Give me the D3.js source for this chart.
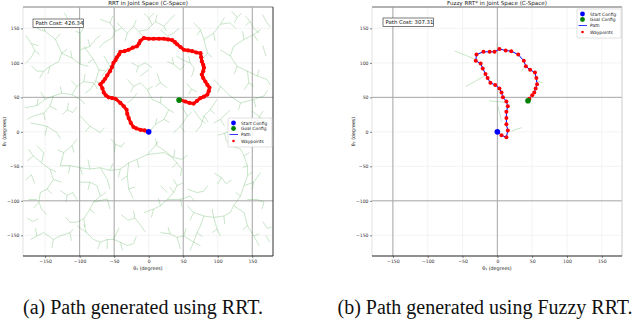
<!DOCTYPE html>
<html>
<head>
<meta charset="utf-8">
<script src="https://cdn.jsdelivr.net/npm/d3@7"></script>
<style>
  body { margin: 0; background: #fff; }
  svg { display: block; }
</style>
</head>
<body>
<svg id="chart"></svg>
<script>
/* global d3 */
const WIDTH = 640, HEIGHT = 322;

// axis ticks (degrees)
const xTicks = [-150, -100, -50, 0, 50, 100, 150];
const yTicks = [-150, -100, -50, 0, 50, 100, 150];

const titles = ["RRT in Joint Space (C-Space)", "Fuzzy RRT* in Joint Space (C-Space)"];
const pathCosts = [426.34, 307.31];
const captions = ["(a) Path generated using RRT.", "(b) Path generated using Fuzzy RRT."];
const legendLabels = ["Start Config", "Goal Config", "Path", "Waypoints"];

// darker reference lines seen in each panel
const rrtLinesX = [-100, -50, 50, 150];
const rrtLinesY = [50, -100];
const fuzzyLinesX = [-150, 0];
const fuzzyLinesY = [50, -100];

// start / goal configurations [theta1, theta2]
const rrtStart = [0, 0], rrtGoal = [44, 46];
const fuzzyStart = [0, 0], fuzzyGoal = [44, 45];

// RRT path waypoints (dense)
const rrtPath = [[0,0],[-6,2],[-12,3],[-18,5],[-22,7],[-26,13],[-29,20],[-31,26],[-32,32],[-36,37],
  [-41,42],[-48,48],[-53,49],[-58,50],[-62,53],[-65,57],[-67,63],[-70,69],[-66,73],[-63,77],
  [-60,82],[-56,88],[-53,94],[-51,100],[-48,104],[-46,108],[-43,112],[-41,116],[-35,117],[-29,119],
  [-23,122],[-17,124],[-14,128],[-12,132],[-7,136],[0,135],[7,135],[15,135],[22,135],[28,134],
  [34,133],[38,130],[41,127],[46,123],[51,119],[57,118],[63,117],[69,115],[75,114],[76,108],
  [77,102],[79,97],[80,93],[79,88],[77,83],[79,78],[82,73],[85,68],[88,64],[87,59],
  [85,54],[80,51],[75,49],[70,45],[65,41],[59,42],[53,44],[46,46]];

// Fuzzy RRT* path waypoints
const fuzzyPath = [[0,0],[6,-5],[13,-8],[15,2],[13,11],[13,20],[13,29],[15,37],[13,44],[8,50],
  [6,57],[3,63],[-3,68],[-10,71],[-14,78],[-17,84],[-21,92],[-24,99],[-31,103],[-30,112],
  [-20,116],[-11,116],[-4,116],[3,120],[12,118],[20,117],[30,112],[38,103],[41,95],[47,90],
  [54,86],[56,78],[57,69],[55,63],[53,57],[50,53],[46,48],[44,45]];

// RRT tree branches, flat [t1,t2, t1,t2, ...]
const rrtBranches = [
  [-167,153,-157,148,-150,146,-135,134,-126,114,-130,102,-143,95,-152,88,-162,88],
  [-126,114,-111,107,-99,98,-87,95],
  [-99,98,-99,119,-99,143,-106,146],
  [-99,119,-85,124,-77,134],
  [-179,35,-162,38,-150,47,-138,52,-126,56,-111,54,-99,47],
  [-138,52,-143,37,-152,27,-167,23],
  [-111,54,-104,66,-94,73,-80,71],
  [-171,13,-147,8,-133,-1],
  [-99,23,-85,8,-70,-1],
  [-70,163,-56,158,-48,146,-53,136,-65,129],
  [-46,158,-31,143,-22,153,-12,143],
  [-14,146,-2,148,10,160,22,153,31,163],
  [17,148,27,139,36,143],
  [-94,124,-80,105,-72,90,-77,73,-85,61],
  [-65,110,-56,95,-68,81],
  [-31,76,-22,66,-12,71,-2,61,5,47,17,42,29,32,22,18,10,11,2,1],
  [-17,56,-24,47,-31,42],
  [12,85,17,71,27,64],
  [27,102,36,98,46,90],
  [-12,81,0,90],
  [65,158,75,148,80,134,94,143,104,156,118,158],
  [80,134,85,114],
  [104,119,118,110,128,95,143,88,157,81,171,76],
  [118,110,123,124,138,134,152,141,162,148],
  [143,88,145,71,138,61],
  [94,76,104,66,118,52,133,42,152,47,167,52],
  [99,47,89,32,80,23,75,8],
  [118,32,104,18,94,13],
  [48,37,56,23,46,8,36,-1],
  [65,32,75,18],
  [-174,-25,-167,-35,-155,-45,-143,-54,-138,-69,-147,-83,-157,-88,-159,-102,-155,-112],
  [-138,-69,-126,-73],
  [-155,-45,-152,-30,-162,-20],
  [-162,-98,-174,-98],
  [-128,-49,-114,-49,-99,-52,-85,-54,-70,-52,-56,-56,-41,-54,-29,-45,-17,-40,-2,-33,7,-23],
  [-70,-52,-60,-69,-56,-83],
  [-29,-45,-31,-64,-29,-83,-22,-97],
  [-2,-33,22,-30,36,-37,48,-40],
  [-128,-49,-123,-30,-111,-20,-104,-11],
  [-99,-73,-85,-73,-75,-78,-70,-93,-80,-102,-85,-112,-94,-126,-104,-131,-114,-131],
  [-80,-102,-60,-97,-56,-112],
  [-7,-117,7,-112,17,-107,27,-98,36,-88,41,-78,36,-69],
  [27,-98,46,-98,60,-93],
  [17,-78,27,-88],
  [56,-107,65,-117,80,-122,94,-124,109,-122,118,-117,123,-107,133,-93,138,-78,143,-64,143,-49,138,-35,133,-25,118,-20],
  [138,-78,152,-73,162,-59],
  [123,-107,138,-117,143,-136,152,-151,160,-165],
  [80,-122,75,-136,70,-146,65,-160],
  [94,-124,99,-141,104,-151],
  [56,-83,70,-88,80,-86,85,-78],
  [143,-98,157,-98,167,-102,164,-112],
  [-171,-156,-162,-151,-152,-146,-138,-156,-128,-151,-114,-146,-109,-141],
  [-104,-136,-90,-146,-80,-156,-70,-160,-60,-156,-51,-156,-41,-160,-31,-165,-22,-162],
  [-51,-156,-46,-146,-43,-139],
  [-60,-156,-60,-170],
  [17,-146,31,-148,41,-153,51,-151,65,-160,75,-165],
  [41,-153,46,-170],
  [-7,172,0,165,5,155],
  [140,168,147,160,152,150,160,143],
  [165,125,170,110],
  [12,-20,27,-30,41,-45,48,-54,46,-64],
  [-178,140,-170,128,-165,118,-170,108,-178,100],
  [-170,128,-160,125],
  [-122,172,-115,160,-108,155,-100,160],
  [-25,100,-15,95,-5,100,5,93],
  [40,110,50,104,60,100,66,92,62,80],
  [55,70,62,62,70,58],
  [120,175,128,166,135,172],
  [165,170,170,160,176,152],
  [150,30,160,22,170,15,178,20],
  [160,22,158,10,165,2],
  [100,-5,110,-2,122,3,130,-5],
  [-178,-70,-170,-62,-165,-75],
  [-128,-85,-118,-92,-110,-88,-104,-98],
  [-40,-120,-30,-128,-20,-125,-12,-135,-5,-145],
  [95,-60,105,-66,112,-75,120,-70],
  [165,-130,172,-140,178,-138],
  [170,-150,175,-160],
  [-176,-125,-168,-130,-160,-126],
  [-55,-10,-48,-18,-40,-22,-35,-15],
  [-125,25,-118,32,-110,28,-104,36]
];

// short twigs of the RRT tree
const rrtTwigs = [
  [-150,146,-155,158],[-135,134,-128,142],[-126,114,-118,120],[-143,95,-146,84],[-152,88,-158,78],[-162,88,-170,96],
  [-111,107,-113,118],[-99,143,-94,152],[-85,124,-88,134],[-77,134,-70,140],
  [-162,38,-160,48],[-150,47,-156,58],[-126,56,-128,66],[-99,47,-92,40],[-143,37,-133,32],[-152,27,-150,17],[-167,23,-176,18],
  [-104,66,-112,74],[-94,73,-92,84],[-80,71,-74,62],
  [-147,8,-150,-5],[-133,-1,-128,-10],[-85,8,-92,0],[-70,-1,-64,6],
  [-56,158,-52,168],[-48,146,-40,150],[-65,129,-72,122],[-31,143,-34,132],[-22,153,-18,162],[-12,143,-6,136],
  [10,160,12,170],[22,153,26,146],[31,163,38,170],[36,143,44,150],
  [-80,105,-88,100],[-72,90,-62,88],[-77,73,-70,70],[-85,61,-92,56],[-56,95,-48,100],
  [-22,66,-26,58],[-2,61,6,66],[17,42,18,52],[29,32,36,28],[22,18,30,14],[10,11,12,20],
  [17,71,10,66],[36,98,34,108],[46,90,52,98],
  [75,148,70,140],[94,143,96,132],[104,156,110,166],[118,158,126,150],[85,114,92,108],[85,114,78,106],
  [128,95,124,84],[157,81,160,90],[171,76,176,68],[138,134,136,146],[152,141,158,132],[145,71,152,66],
  [104,66,100,58],[133,42,130,32],[152,47,155,36],[167,52,172,60],[89,32,96,26],[80,23,86,14],[75,8,68,0],[104,18,110,8],
  [56,23,62,28],[46,8,52,0],[75,18,82,12],
  [-167,-35,-176,-42],[-143,-54,-134,-58],[-147,-83,-140,-90],[-159,-102,-166,-110],[-155,-112,-148,-120],
  [-114,-49,-116,-60],[-99,-52,-96,-62],[-85,-54,-88,-40],[-56,-56,-52,-46],[-41,-54,-44,-66],[-17,-40,-14,-52],[7,-23,14,-14],
  [-31,-64,-40,-70],[-29,-83,-20,-80],[36,-37,38,-26],[48,-40,56,-34],[-123,-30,-132,-26],[-111,-20,-108,-30],
  [-85,-73,-88,-84],[-70,-93,-62,-88],[-85,-112,-78,-118],[-94,-126,-92,-138],[-114,-131,-120,-124],
  [7,-112,4,-124],[17,-107,14,-96],[36,-88,30,-80],[41,-78,50,-74],[46,-98,48,-108],[60,-93,66,-100],
  [65,-117,60,-128],[94,-124,92,-112],[109,-122,110,-134],[133,-93,126,-88],[143,-64,150,-58],[143,-49,136,-52],[138,-35,146,-30],[118,-20,112,-12],
  [152,-73,150,-84],[143,-136,136,-142],[152,-151,160,-148],[70,-146,78,-152],[99,-141,92,-146],
  [-162,-151,-164,-140],[-138,-156,-140,-168],[-114,-146,-112,-158],[-90,-146,-94,-134],[-70,-160,-74,-170],[-41,-160,-38,-172],[-22,-162,-18,-152],
  [31,-148,28,-138],[51,-151,54,-140],[65,-160,60,-172],
  [0,165,8,172],[147,160,140,154],[12,-20,10,-10],[41,-45,34,-52],
  [-165,118,-158,112],[-115,160,-118,150],[-15,95,-18,86],[60,100,58,110],[160,22,166,30],
  [110,-2,112,-12],[-118,-92,-120,-102],[-20,-125,-22,-114],[105,-66,100,-76],[-48,-18,-50,-30],
  [-118,32,-116,42],[128,166,124,158],[62,62,58,54]
];

// Fuzzy RRT* tree (sparse)
const fuzzyBranches = [
  [-61,117,-48,112,-32,105],
  [-45,66,-34,72,-24,78,-16,82],
  [-12,45,-2,44,11,43],
  [1,37,3,28,5,20,6,14],
  [20,1,28,4,35,6],
  [-1,127,3,120],
  [42,93,38,97],
  [56,74,65,71],
  [35,88,39,94]
];

const svg = d3.select("#chart")
  .attr("width", WIDTH)
  .attr("height", HEIGHT);

const yDomain = [-180, 181];
const TOP = 7, BOTTOM = 256;
const FONT = "DejaVu Sans, sans-serif";

let panels = [
  {
    title: titles[0], cost: pathCosts[0], xDomain: [-182, 180], left: 23, right: 273,
    tree: rrtBranches.concat(rrtTwigs), treeColor: "#4aa84a", treeOpacity: 0.55, treeWidth: 0.55,
    path: rrtPath, dense: true, start: rrtStart, goal: rrtGoal,
    linesX: rrtLinesX, linesY: rrtLinesY,
    costBox: [33, 19], legend: [228, 118], caption: captions[0], captionX: 143,
    rightSpine: "#333", topSpine: "#aaa"
  },
  {
    title: titles[1], cost: pathCosts[1], xDomain: [-180, 179], left: 372, right: 622,
    tree: fuzzyBranches, treeColor: "#6cbf6c", treeOpacity: 0.55, treeWidth: 0.7,
    path: fuzzyPath, dense: false, start: fuzzyStart, goal: fuzzyGoal,
    linesX: fuzzyLinesX, linesY: fuzzyLinesY,
    costBox: [383, 18], legend: [577, 9], caption: captions[1], captionX: 485,
    rightSpine: "#ccc", topSpine: "#999"
  }
];

panels.forEach(drawPanel);

function drawPanel(p) {
  let x = d3.scaleLinear().domain(p.xDomain).range([p.left, p.right]);
  let y = d3.scaleLinear().domain(yDomain).range([BOTTOM, TOP]);
  let g = svg.append("g");

  // light grid
  g.selectAll(".vgrid")
    .data(xTicks)
  .enter().append("line")
    .attr("x1", d => x(d)).attr("x2", d => x(d))
    .attr("y1", TOP).attr("y2", BOTTOM)
    .style("stroke", "#ebebeb")
    .style("stroke-width", 0.6);

  g.selectAll(".hgrid")
    .data(yTicks)
  .enter().append("line")
    .attr("x1", p.left).attr("x2", p.right)
    .attr("y1", d => y(d)).attr("y2", d => y(d))
    .style("stroke", "#ebebeb")
    .style("stroke-width", 0.6);

  // darker lines
  g.selectAll(".vline")
    .data(p.linesX)
  .enter().append("line")
    .attr("x1", d => x(d)).attr("x2", d => x(d))
    .attr("y1", TOP).attr("y2", BOTTOM)
    .style("stroke", "#a8a8a8")
    .style("stroke-width", 1);

  g.selectAll(".hline")
    .data(p.linesY)
  .enter().append("line")
    .attr("x1", p.left).attr("x2", p.right)
    .attr("y1", d => y(d)).attr("y2", d => y(d))
    .style("stroke", "#a8a8a8")
    .style("stroke-width", 1);

  // tree
  let line = d3.line().x(d => x(d[0])).y(d => y(d[1]));
  g.selectAll(".branch")
    .data(p.tree)
  .enter().append("path")
    .attr("d", d => line(d3.range(0, d.length, 2).map(i => [d[i], d[i + 1]])))
    .style("fill", "none")
    .style("stroke", p.treeColor)
    .style("stroke-opacity", p.treeOpacity)
    .style("stroke-width", p.treeWidth);

  // spines
  g.append("line").attr("x1", p.left).attr("x2", p.right).attr("y1", TOP).attr("y2", TOP)
    .style("stroke", p.topSpine).style("stroke-width", 1.3);
  g.append("line").attr("x1", p.left).attr("x2", p.left).attr("y1", TOP).attr("y2", BOTTOM)
    .style("stroke", "#d0d0d0").style("stroke-width", 0.6);
  g.append("line").attr("x1", p.right).attr("x2", p.right).attr("y1", TOP).attr("y2", BOTTOM)
    .style("stroke", p.rightSpine).style("stroke-width", 1);
  g.append("line").attr("x1", p.left).attr("x2", p.right).attr("y1", BOTTOM).attr("y2", BOTTOM)
    .style("stroke", "#222").style("stroke-width", 1.2);

  // path
  g.append("path")
    .attr("d", line(p.path))
    .style("fill", "none")
    .style("stroke", p.dense ? "red" : "blue")
    .style("stroke-width", p.dense ? 3 : 1);

  g.selectAll(".wp")
    .data(p.path)
  .enter().append("circle")
    .attr("cx", d => x(d[0]))
    .attr("cy", d => y(d[1]))
    .attr("r", p.dense ? 2.1 : 2)
    .style("fill", "red");

  g.append("circle")
    .attr("cx", x(p.start[0])).attr("cy", y(p.start[1])).attr("r", 2.8)
    .style("fill", "blue");
  g.append("circle")
    .attr("cx", x(p.goal[0])).attr("cy", y(p.goal[1])).attr("r", 2.8)
    .style("fill", "green");

  // axes
  let xAxis = g.append("g")
    .attr("transform", "translate(0," + BOTTOM + ")")
    .call(d3.axisBottom(x).tickValues(xTicks).tickSize(2).tickPadding(1.5));
  let yAxis = g.append("g")
    .attr("transform", "translate(" + p.left + ",0)")
    .call(d3.axisLeft(y).tickValues(yTicks).tickSize(2).tickPadding(1.5));
  [xAxis, yAxis].forEach(a => {
    a.select(".domain").remove();
    a.selectAll("line").style("stroke", "#333").style("stroke-width", 0.6);
    a.selectAll("text").style("font-family", FONT).style("font-size", "4.6px").style("fill", "#333");
  });

  // labels
  g.append("text")
    .attr("x", (p.left + p.right) / 2).attr("y", 4.8)
    .attr("text-anchor", "middle")
    .style("font-family", FONT).style("font-size", "5.6px").style("fill", "#222")
    .text(p.title);

  g.append("text")
    .attr("x", (p.left + p.right) / 2).attr("y", 270)
    .attr("text-anchor", "middle")
    .style("font-family", FONT).style("font-size", "4.8px").style("fill", "#222")
    .text("θ₁ (degrees)");

  g.append("text")
    .attr("transform", "translate(" + (p.left - 17) + "," + ((TOP + BOTTOM) / 2) + ")rotate(-90)")
    .attr("text-anchor", "middle")
    .style("font-family", FONT).style("font-size", "4.8px").style("fill", "#222")
    .text("θ₂ (degrees)");

  // path cost box
  let cb = g.append("g").attr("transform", "translate(" + p.costBox[0] + "," + p.costBox[1] + ")");
  cb.append("rect")
    .attr("width", 50.5).attr("height", 8.6)
    .style("fill", "white").style("stroke", "#444").style("stroke-width", 0.7);
  cb.append("text")
    .attr("x", 2.5).attr("y", 6.3)
    .style("font-family", FONT).style("font-size", "5.4px").style("fill", "#111")
    .text("Path Cost: " + p.cost.toFixed(2));

  // legend
  let lg = g.append("g").attr("transform", "translate(" + p.legend[0] + "," + p.legend[1] + ")");
  lg.append("rect")
    .attr("width", 44).attr("height", 29).attr("rx", 1)
    .style("fill", "white").style("fill-opacity", 0.85)
    .style("stroke", "#ccc").style("stroke-width", 0.6);
  let rows = lg.selectAll(".row")
    .data(legendLabels)
  .enter().append("g")
    .attr("transform", (d, i) => "translate(0," + [5, 10.5, 16.5, 23][i] + ")");
  rows.each(function(d, i) {
    let r = d3.select(this);
    if (i === 2) {
      r.append("line").attr("x1", 1.5).attr("x2", 10).style("stroke", "blue").style("stroke-width", 0.8);
    } else {
      r.append("circle").attr("cx", 5.5).attr("r", i === 3 ? 1.3 : 2.4)
        .style("fill", ["blue", "green", null, "red"][i]);
    }
    r.append("text")
      .attr("x", 13).attr("y", 1.6)
      .style("font-family", FONT).style("font-size", "4.4px").style("fill", "#222")
      .text(d);
  });

  // caption
  svg.append("text")
    .attr("x", p.captionX).attr("y", 314)
    .attr("text-anchor", "middle")
    .style("font-family", "Liberation Serif, serif").style("font-size", "20px").style("fill", "#111")
    .text(p.caption);
}
</script>
</body>
</html>
